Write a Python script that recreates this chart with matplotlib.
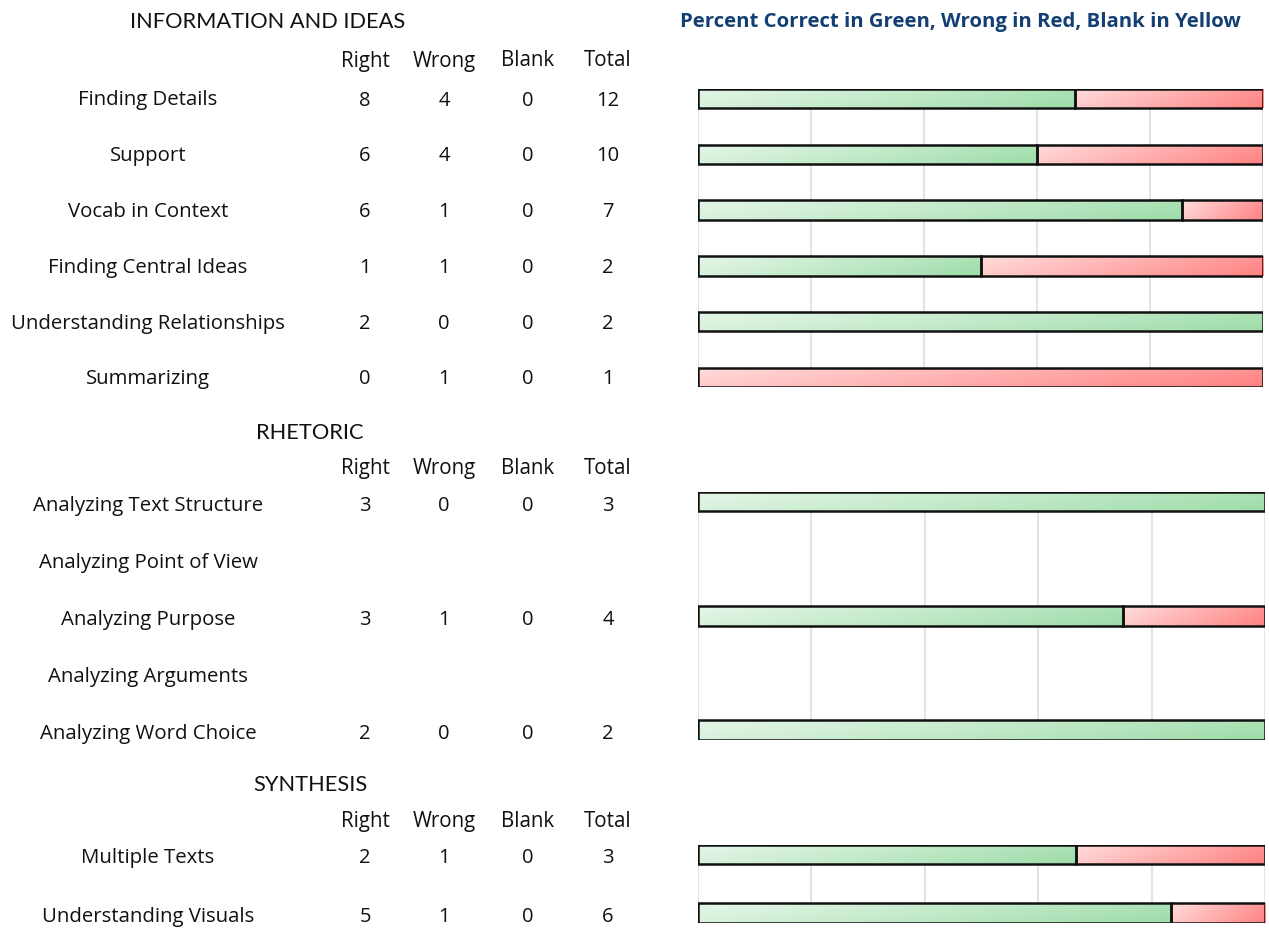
import matplotlib.pyplot as plt
import numpy as np
from matplotlib.colors import LinearSegmentedColormap

W, H = 1269, 929

# ---- data ----
info_labels = ['Finding Details', 'Support', 'Vocab in Context', 'Finding Central Ideas',
               'Understanding Relationships', 'Summarizing']
info_right = [8, 6, 6, 1, 2, 0]
info_wrong = [4, 4, 1, 1, 0, 1]
info_blank = [0, 0, 0, 0, 0, 0]

rhet_labels = ['Analyzing Text Structure', 'Analyzing Point of View', 'Analyzing Purpose',
               'Analyzing Arguments', 'Analyzing Word Choice']
rhet_right = [3, None, 3, None, 2]
rhet_wrong = [0, None, 1, None, 0]
rhet_blank = [0, None, 0, None, 0]

syn_labels = ['Multiple Texts', 'Understanding Visuals']
syn_right = [2, 5]
syn_wrong = [1, 1]
syn_blank = [0, 0]

columns = ['Right', 'Wrong', 'Blank', 'Total']
chart_title = 'Percent Correct in Green, Wrong in Red, Blank in Yellow'

# ---- layout (pixels) ----
groups = [
    dict(name='INFORMATION AND IDEAS', labels=info_labels, right=info_right, wrong=info_wrong,
         blank=info_blank, title_y=22, title_x=268, head_y=61, first=99.5, last=378.5,
         bar_px=19.5, x1=1263, text_dy=1),
    dict(name='RHETORIC', labels=rhet_labels, right=rhet_right, wrong=rhet_wrong,
         blank=rhet_blank, title_y=433, title_x=310, head_y=469, first=502.5, last=731,
         bar_px=19.6, x1=1265, text_dy=3.5),
    dict(name='SYNTHESIS', labels=syn_labels, right=syn_right, wrong=syn_wrong,
         blank=syn_blank, title_y=785, title_x=310, head_y=822, first=855.3, last=914.3,
         bar_px=19.6, x1=1265, text_dy=2.5),
]
col_x = [365, 444, 528, 608]
label_x = 148
bar_x0 = 698

BODY = 'Open Sans'
HEAD = 'Lato'
green = LinearSegmentedColormap.from_list('g', ['#e5f6e8', '#9fddaa'])
red = LinearSegmentedColormap.from_list('r', ['#ffdcdc', '#ff8282'])
yellow = LinearSegmentedColormap.from_list('y', ['#fff8cc', '#ffe37a'])

gx, gy = np.meshgrid(np.linspace(0, 1, 64), np.linspace(0, 1, 16))
grad = 0.8 * gx + 0.2 * gy


def fx(x):
    return x / W


def fy(y):
    return 1 - y / H


fig = plt.figure(figsize=(W / 100, H / 100), dpi=100)
fig.patch.set_facecolor('white')

fig.text(fx(680), fy(22), chart_title, ha='left', va='center', fontsize=14.7,
         fontweight='bold', color='#143f72', family=BODY)

for g in groups:
    n = len(g['labels'])
    fig.text(fx(g['title_x']), fy(g['title_y']), g['name'], ha='center', va='center',
             fontsize=15.7, family=HEAD, color='#111111')
    for cx, c in zip(col_x, columns):
        fig.text(fx(cx), fy(g['head_y']), c, ha='center', va='center', fontsize=14.8,
                 family=BODY, color='#111111')

    step = (g['last'] - g['first']) / (n - 1)
    h = g['bar_px'] / step
    top_px = g['first'] - g['bar_px'] / 2
    bot_px = g['last'] + g['bar_px'] / 2
    ax = fig.add_axes([fx(bar_x0), fy(bot_px), (g['x1'] - bar_x0) / W, (bot_px - top_px) / H])

    for i, lab in enumerate(g['labels']):
        ty = g['first'] + i * step + g['text_dy']
        fig.text(fx(label_x), fy(ty), lab, ha='center', va='center', fontsize=14.7,
                 family=BODY, color='#111111')
        r, w, b = g['right'][i], g['wrong'][i], g['blank'][i]
        if r is None:
            continue
        tot = r + w + b
        for cx, v in zip(col_x, [r, w, b, tot]):
            fig.text(fx(cx), fy(ty), str(v), ha='center', va='center', fontsize=14.5,
                     family=BODY, color='#111111')
        left = 0
        for val, cmap in [(r, green), (w, red), (b, yellow)]:
            if val == 0:
                continue
            frac = val / tot
            bar = ax.barh(i, frac, left=left, height=h, color='none', edgecolor='#111111',
                          linewidth=1.8, zorder=3)[0]
            img = ax.imshow(grad, cmap=cmap, extent=(left, left + frac, i + h / 2, i - h / 2),
                            aspect='auto', zorder=2, interpolation='bilinear')
            img.set_clip_path(bar)
            left += frac

    ax.set_xlim(0, 1)
    ax.set_ylim(n - 1 + h / 2, -h / 2)
    ax.set_xticks(np.arange(0, 1.01, 0.2))
    ax.set_yticks([])
    ax.tick_params(length=0, labelbottom=False)
    ax.grid(axis='x', color='#e4e4e4', linewidth=1.5, zorder=0)
    ax.set_axisbelow(True)
    for s in ax.spines.values():
        s.set_visible(False)
    ax.patch.set_alpha(0)

fig.savefig('out.png', dpi=100, facecolor='white')
